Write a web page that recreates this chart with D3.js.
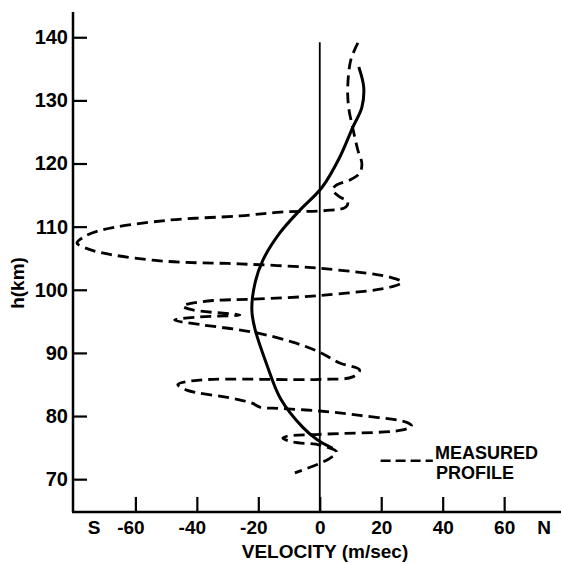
<!DOCTYPE html>
<meta charset="utf-8">
<style>
body { margin: 0; background: #fff; }
text { font-family: "Liberation Sans", Arial, sans-serif; font-weight: bold; fill: #000; }
.axis path, .axis line { stroke: #000; }
</style>
<svg width="562" height="564"></svg>
<script src="https://d3js.org/d3.v7.min.js"></script>
<script>

// tick values
let hTicks = [70, 80, 90, 100, 110, 120, 130, 140];
let vTicks = [-60, -40, -20, 0, 20, 40, 60];

// measured profile (dashed), top to bottom
let measV = [12.4, 10.1, 9.1, 9.4, 10.7, 12.4, 13.7, 13.0, 9.8, 5.5, 4.2, 6.5, 9.1, 8.5, 3.3,
  -12.7, -26.0, -49.8, -71.5, -77.0, -79.0, -75.0, -68.3, -49.8, -26.0, 0, 22.8, 26.7, 22.8,
  0, -21.8, -34.8, -43.3, -44.6, -41.3, -26.0, -39.0, -47.2, -39.0, -21.8, -8.8, 0, 6.5,
  13.0, 10.7, 0, -39.0, -46.2, -43.3, -28.3, -21.8, -19.5, -13.0, 0, 13.0, 28.3, 29.9, 27.0,
  0, -10.7, -12.0, -8.8, 0, 5.5, 3.3, 0, -8.1];
let measH = [139.1, 136.4, 132.1, 128.9, 125.7, 122.1, 120.0, 118.5, 117.4, 116.6, 115.8, 114.7, 114.0, 113.1, 112.6,
  112.3, 111.7, 111.0, 109.4, 108.3, 107.4, 106.4, 105.6, 104.5, 104.1, 103.4, 102.0, 101.2, 100.4,
  99.1, 98.5, 98.3, 97.7, 97.4, 96.8, 96.0, 95.7, 95.2, 94.5, 93.3, 91.7, 90.1, 88.4,
  87.3, 86.2, 85.8, 85.7, 85.0, 84.1, 82.8, 82.0, 81.4, 81.2, 80.8, 80.1, 79.0, 78.4, 77.8,
  77.1, 76.8, 76.5, 75.9, 75.4, 74.3, 73.3, 72.5, 71.0];

// smooth profile (solid)
let fitV = [12.7, 14.3, 13.7, 10.7, 6.5, 0.7, -6.5, -13.0, -18.5, -21.1, -22.1, -21.1, -17.2, -12.7, -5.5, -0.7, 4.2];
let fitH = [135.3, 132.1, 128.9, 125.7, 121.0, 116.2, 112.6, 109.0, 104.7, 101.0, 96.8, 93.8, 88.1, 82.7, 78.2, 76.2, 74.9];

let svg = d3.select("svg");

let x = d3.scaleLinear().domain([-80.3, 78.5]).range([73, 561]);
let y = d3.scaleLinear().domain([64.8, 144]).range([512, 12]);

// axes lines
svg.append("line")
  .attr("x1", x(-80.3)).attr("x2", x(-80.3))
  .attr("y1", y(64.8)).attr("y2", y(144))
  .attr("stroke", "#000").attr("stroke-width", 2.5);
svg.append("line")
  .attr("x1", x(-80.3) - 1).attr("x2", x(78.5))
  .attr("y1", y(64.8)).attr("y2", y(64.8))
  .attr("stroke", "#000").attr("stroke-width", 2.5);

// zero velocity line
svg.append("line")
  .attr("x1", x(0)).attr("x2", x(0))
  .attr("y1", y(64.8)).attr("y2", y(139.2))
  .attr("stroke", "#000").attr("stroke-width", 1.8);

let yAxis = svg.append("g").attr("class", "axis")
  .attr("transform", "translate(" + x(-80.3) + ",0)")
  .call(d3.axisLeft(y).tickValues(hTicks).tickSize(-14).tickPadding(5));
yAxis.select(".domain").remove();
yAxis.selectAll("line").attr("stroke-width", 2.2);
yAxis.selectAll("text").attr("font-size", 20).attr("font-family", null);

let xAxis = svg.append("g").attr("class", "axis")
  .attr("transform", "translate(0," + y(64.8) + ")")
  .call(d3.axisBottom(x).tickValues(vTicks).tickSize(-15).tickPadding(9)
    .tickFormat(d => d < 0 ? "-" + Math.abs(d) : String(d)));
xAxis.select(".domain").remove();
xAxis.selectAll("line").attr("stroke-width", 2.2);
xAxis.selectAll("text").attr("font-size", 19).attr("font-family", null)
  .attr("dx", d => d < 0 ? -5 : 0);

svg.append("text").attr("x", 94).attr("y", y(64.8) + 9).attr("dy", "0.71em")
  .attr("text-anchor", "middle").attr("font-size", 19).text("S");
svg.append("text").attr("x", 544).attr("y", y(64.8) + 9).attr("dy", "0.71em")
  .attr("text-anchor", "middle").attr("font-size", 19).text("N");

svg.append("text")
  .attr("x", 325).attr("y", 558)
  .attr("text-anchor", "middle").attr("font-size", 19)
  .text("VELOCITY (m/sec)");

svg.append("text")
  .attr("transform", "translate(24,283) rotate(-90)")
  .attr("text-anchor", "middle").attr("font-size", 19)
  .text("h(km)");

let line = d3.line()
  .x(d => x(d[0]))
  .y(d => y(d[1]))
  .curve(d3.curveCatmullRom.alpha(0.5));

svg.append("path")
  .datum(fitV.map((v, i) => [v, fitH[i]]))
  .attr("d", line)
  .attr("fill", "none").attr("stroke", "#000").attr("stroke-width", 3);

svg.append("path")
  .datum(measV.map((v, i) => [v, measH[i]]))
  .attr("d", line)
  .attr("fill", "none").attr("stroke", "#000").attr("stroke-width", 2.8)
  .attr("stroke-dasharray", "11,6");

// legend
svg.append("line")
  .attr("x1", x(19.8)).attr("x2", x(36.8))
  .attr("y1", y(72.9)).attr("y2", y(72.9))
  .attr("stroke", "#000").attr("stroke-width", 2.5)
  .attr("stroke-dasharray", "10,5");
svg.append("text").attr("x", 435).attr("y", 459).attr("font-size", 18).text("MEASURED");
svg.append("text").attr("x", 436).attr("y", 479).attr("font-size", 18).text("PROFILE");

</script>
